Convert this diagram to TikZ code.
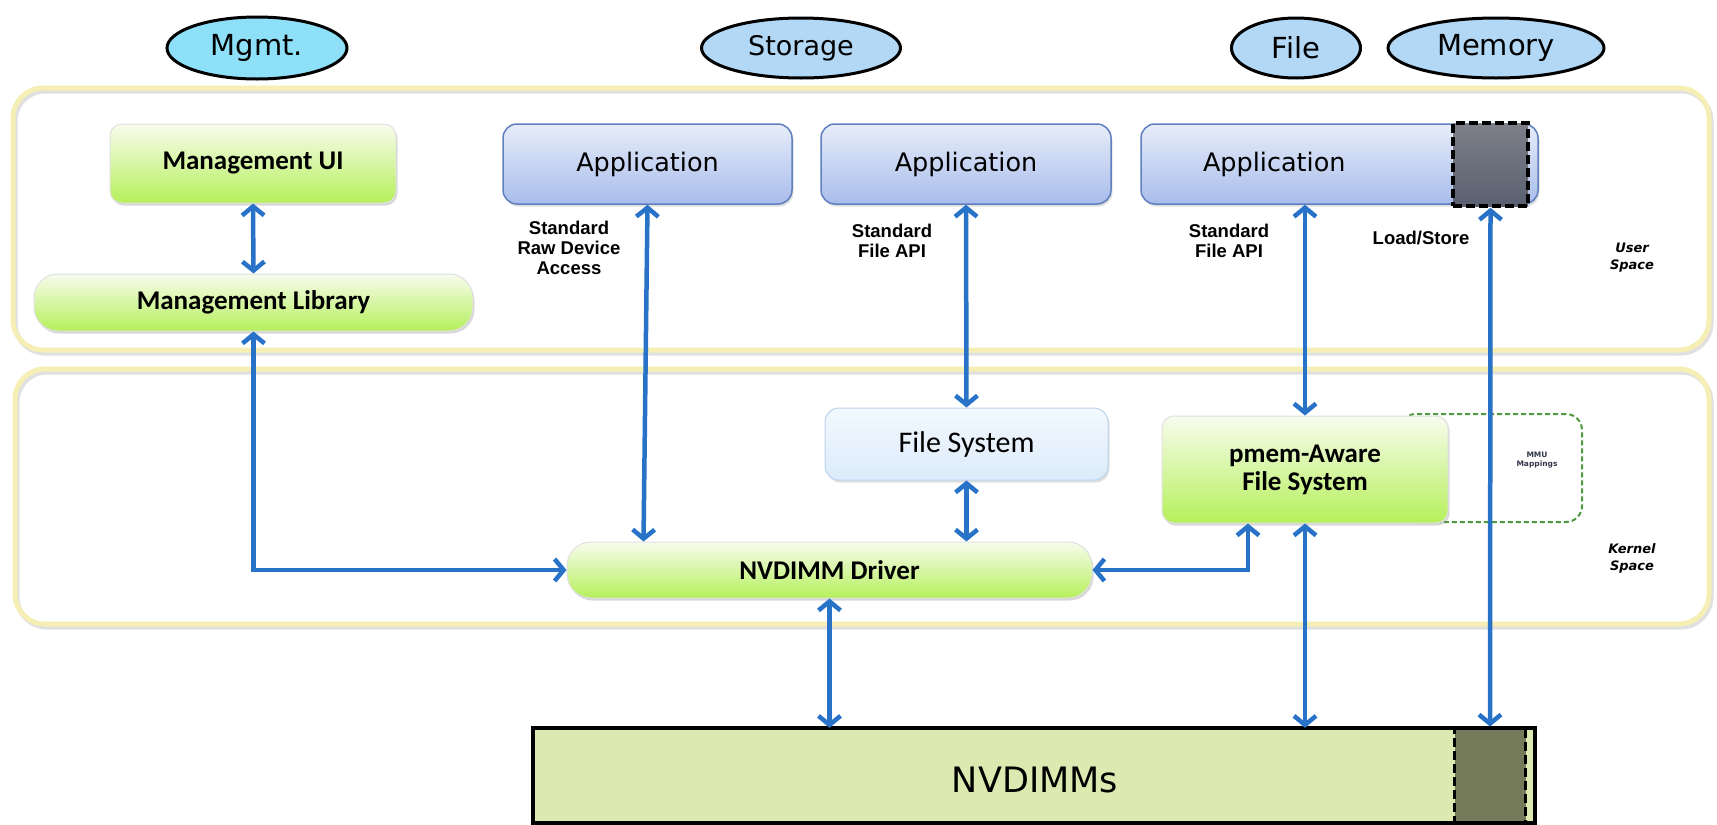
\documentclass[tikz,border=0pt]{standalone}
\usepackage{fontspec}
\setmainfont{DejaVu Sans}
\newfontfamily\calib{Carlito}
\newfontfamily\arialf{Liberation Sans}
\usetikzlibrary{arrows.meta,shapes.geometric,shadows,calc}
\definecolor{arrowblue}{RGB}{40,115,200}
\definecolor{regborder}{HTML}{F5EFB5}
\definecolor{ellMgmt}{HTML}{8EDFF8}
\definecolor{ellOther}{HTML}{B2D8F6}
\definecolor{greenTop}{HTML}{F8FCEE}
\definecolor{greenBot}{HTML}{B5F05A}
\definecolor{appTop}{HTML}{E6ECF9}
\definecolor{appBot}{HTML}{A9BDEB}
\definecolor{appBorder}{HTML}{5F7FBF}
\definecolor{fsTop}{HTML}{F2F8FE}
\definecolor{fsBot}{HTML}{DCEBFA}
\definecolor{fsBorder}{HTML}{BCD4EC}
\definecolor{darkTop}{HTML}{7D8089}
\definecolor{darkBot}{HTML}{5A6070}
\definecolor{nvFill}{HTML}{DCE9B0}
\definecolor{nvDark}{HTML}{757B5A}
\definecolor{mmuGreen}{HTML}{4E9A3C}
\definecolor{mmuText}{HTML}{33384A}
\tikzset{
  region/.style={draw=regborder, line width=5pt, rounded corners=30pt},
  regionshadow/.style={draw=black!12, line width=5pt, rounded corners=30pt},
  ell/.style={ellipse, draw=black, line width=3pt, inner sep=0pt, font=\fontsize{29}{34}\selectfont},
  greenbox/.style={rounded corners=12pt, top color=greenTop, bottom color=greenBot, draw=black!12, line width=1pt,
     drop shadow={shadow xshift=1.5pt, shadow yshift=-2.5pt, opacity=0.3}, inner sep=0pt,
     font=\calib\bfseries\fontsize{27}{28}\selectfont, align=center},
  pill/.style={greenbox, rounded corners=24pt},
  appbox/.style={rounded corners=14pt, top color=appTop, bottom color=appBot, draw=appBorder, line width=1.5pt,
     drop shadow={shadow xshift=1.5pt, shadow yshift=-2.5pt, opacity=0.25}, inner sep=0pt,
     font=\fontsize{25.5}{30}\selectfont},
  fsbox/.style={rounded corners=14pt, top color=fsTop, bottom color=fsBot, draw=fsBorder, line width=1pt,
     drop shadow={shadow xshift=1.5pt, shadow yshift=-2.5pt, opacity=0.25}, inner sep=0pt,
     font=\calib\fontsize{30}{34}\selectfont},
  darkbox/.style={top color=darkTop, bottom color=darkBot, draw=black, line width=3.5pt, dash pattern=on 9pt off 4pt, inner sep=0pt},
  mmubox/.style={draw=mmuGreen, line width=2pt, dash pattern=on 5pt off 3pt, rounded corners=16pt, inner sep=0pt},
  lbl/.style={font=\arialf\bfseries\fontsize{18.5}{20}\selectfont, align=center, inner sep=0pt},
  side/.style={font=\bfseries\itshape\fontsize{13}{17}\selectfont, align=center, inner sep=0pt},
  biarrow/.style={draw=arrowblue, line width=4.5pt,
     {Straight Barb[length=9pt,width=22pt,line width=4.5pt]}-{Straight Barb[length=9pt,width=22pt,line width=4.5pt]}},
}
\begin{document}
\begin{tikzpicture}[x=1pt,y=-1pt]
\useasboundingbox[fill=white] (0,0) rectangle (1717,825);
% regions
\draw[regionshadow] (15,91) rectangle (1711,353);
\draw[region] (13,88) rectangle (1709,350);
\draw[regionshadow] (17,372) rectangle (1711,627);
\draw[region] (15,369) rectangle (1709,624);
% top ellipses
\node[ell, fill=ellMgmt, minimum width=180pt, minimum height=62pt] (mgmt) at (257,48) {Mgmt.};
\node[ell, fill=ellOther, minimum width=199pt, minimum height=60pt, font=\fontsize{27}{32}\selectfont] (storage) at (801,48) {Storage};
\node[ell, fill=ellOther, minimum width=129pt, minimum height=60pt] (file) at (1296,48) {File};
\node[ell, fill=ellOther, minimum width=216pt, minimum height=60pt] (memory) at (1496,48) {Memory};
% user space
\node[greenbox, minimum width=286pt, minimum height=79pt] (mgmtui) at (253,163.5) {Management UI};
\node[pill, minimum width=439pt, minimum height=57pt] (mgmtlib) at (253.5,302.5) {Management Library};
\node[appbox, minimum width=289pt, minimum height=80pt] (app1) at (647.5,164) {Application};
\node[appbox, minimum width=290pt, minimum height=80pt] (app2) at (966,164) {Application};
\node[appbox, minimum width=397pt, minimum height=80pt, text width=397pt, align=left] (app3) at (1339.5,164) {\hspace*{62pt}Application};
\node[darkbox, minimum width=75pt, minimum height=83pt] (dark) at (1490.5,164.5) {};
\node[lbl] (lraw) at (569,248) {Standard\\Raw Device\\Access};
\node[lbl] (lapi2) at (892,241) {Standard\\File API};
\node[lbl] (lapi3) at (1229,241) {Standard\\File API};
\node[lbl] (lls) at (1421,238) {Load/Store};
\node[side] (us) at (1632,258) {User\\Space};
% kernel space
\node[mmubox, minimum width=182pt, minimum height=108pt] (mmu) at (1491,468) {};
\node[font=\bfseries\fontsize{7.5}{9.5}\selectfont, text=mmuText, align=center, inner sep=0pt] (mmutext) at (1537,460) {MMU\\Mappings};
\node[fsbox, minimum width=283pt, minimum height=72pt] (fs) at (966.5,444) {File System};
\node[greenbox, minimum width=286pt, minimum height=107pt] (pmem) at (1305,469.5) {pmem-Aware\\File System};
\node[pill, minimum width=525pt, minimum height=56pt] (driver) at (829.5,570) {NVDIMM Driver};
\node[side] (ks) at (1632,558) {Kernel\\Space};
% NVDIMMs
\node[fill=nvFill, minimum width=1002pt, minimum height=95pt, inner sep=0pt] (nvdimm) at (1034,775.5) {};
\node[font=\fontsize{35}{40}\selectfont, inner sep=0pt] (nvtext) at (1035,780) {NVDIMMs};
\node[fill=nvDark, draw=black, line width=3pt, dash pattern=on 9pt off 4pt, minimum width=71pt, minimum height=95pt, inner sep=0pt] (nvmem) at (1490,775.5) {};
\draw[line width=3.5pt] (nvdimm.south west) rectangle (nvdimm.north east);
% arrows
\draw[biarrow] (mgmtui.south) -- (mgmtlib.north);
\draw[biarrow] (mgmtlib.south) |- (driver.west);
\draw[biarrow] (app1.south) -- ([xshift=-186pt]driver.north);
\draw[biarrow] (app2.south) -- (fs.north);
\draw[biarrow] (fs.south) -- (fs.south |- driver.north);
\draw[biarrow] (app3.south -| pmem.north) -- (pmem.north);
\draw[biarrow] (driver.east) -| ([xshift=-57pt]pmem.south);
\draw[biarrow] (pmem.south) -- (pmem.south |- nvdimm.north);
\draw[biarrow] (driver.south) -- (driver.south |- nvdimm.north);
\draw[biarrow] (dark.south) -- (nvmem.north);
\end{tikzpicture}
\end{document}
